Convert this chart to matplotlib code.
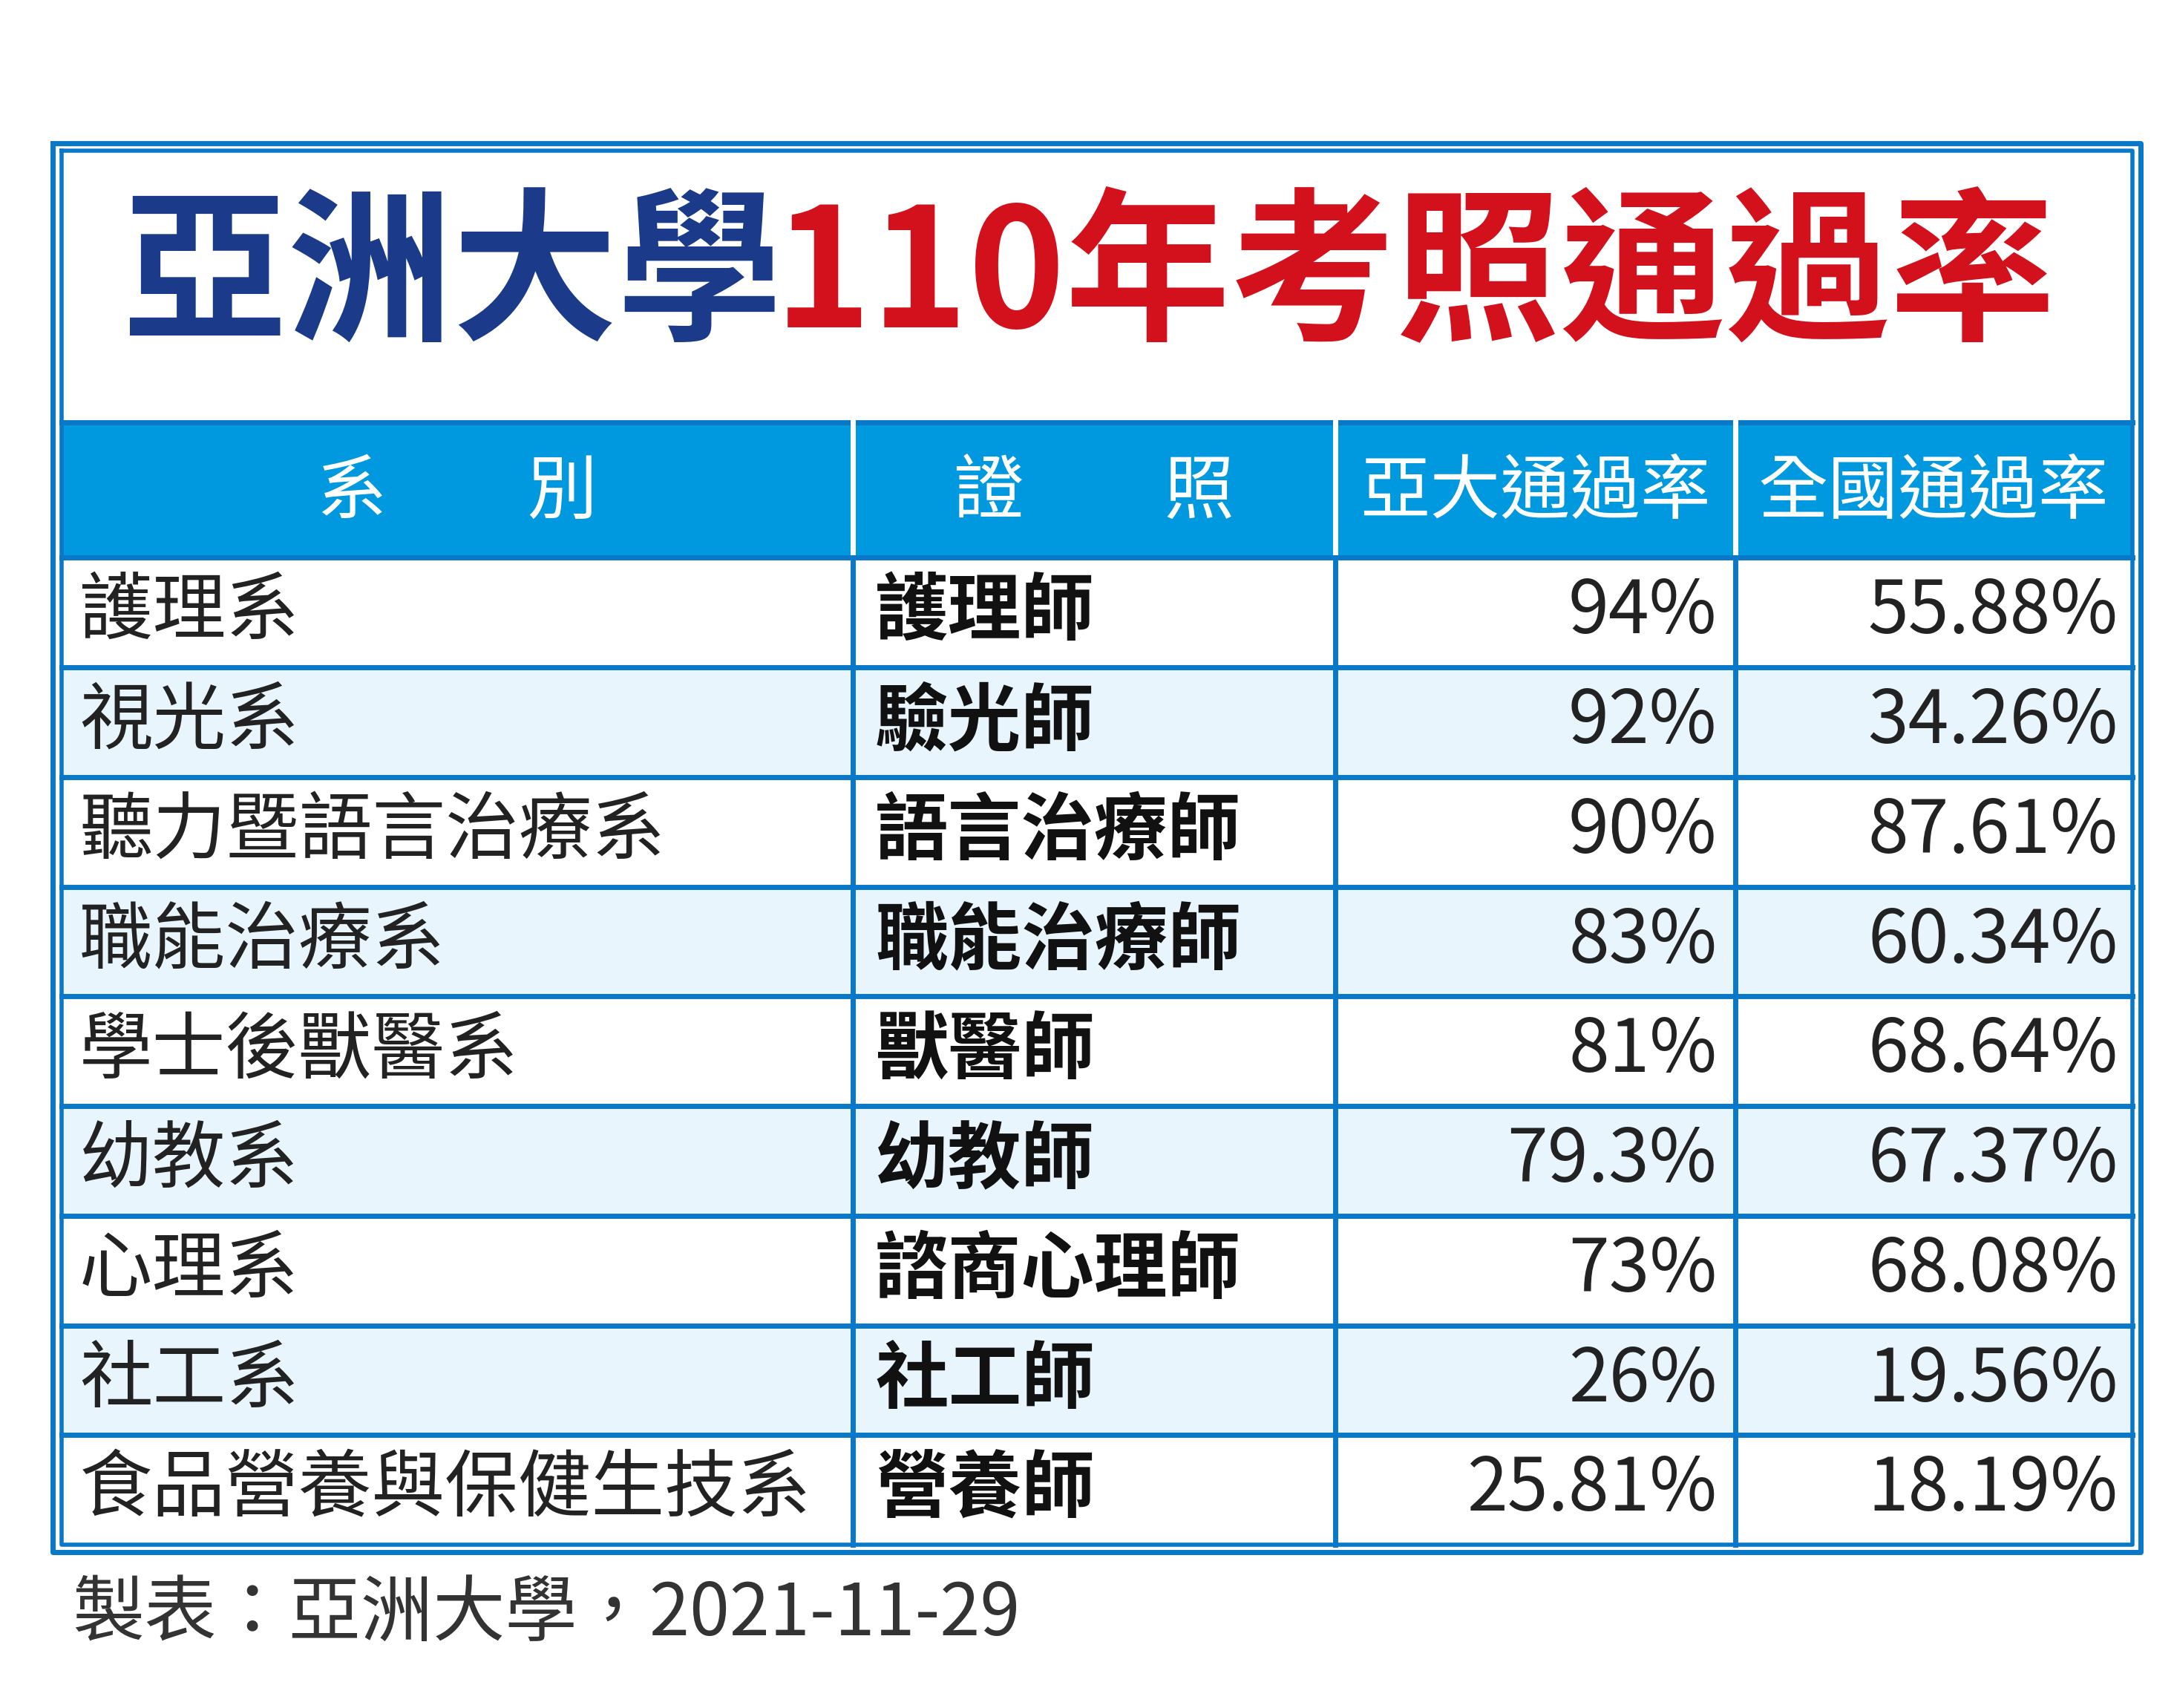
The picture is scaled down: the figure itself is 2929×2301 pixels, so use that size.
import matplotlib.pyplot as plt
from matplotlib.patches import Rectangle

# table contents
HEADERS = ["系　　別", "證　　照", "亞大通過率", "全國通過率"]
DEPTS = ["護理系", "視光系", "聽力暨語言治療系", "職能治療系", "學士後獸醫系",
         "幼教系", "心理系", "社工系", "食品營養與保健生技系"]
LICENSES = ["護理師", "驗光師", "語言治療師", "職能治療師", "獸醫師",
            "幼教師", "諮商心理師", "社工師", "營養師"]
ASIA_RATE = ["94%", "92%", "90%", "83%", "81%", "79.3%", "73%", "26%", "25.81%"]
NATION_RATE = ["55.88%", "34.26%", "87.61%", "60.34%", "68.64%",
               "67.37%", "68.08%", "19.56%", "18.19%"]
TITLE_LEFT = "亞洲大學"
TITLE_RIGHT = "110年考照通過率"
FOOTER = "製表：亞洲大學，2021-11-29"

FONT = "Noto Sans CJK TC"
NAVY = "#1b3a8a"
RED = "#d3111c"
HEAD_BLUE = "#0099e0"
LINE_BLUE = "#0a78c8"
ROW_ALT = "#e9f5fd"

fig = plt.figure(figsize=(29.29, 23.01), dpi=100)
ax = fig.add_axes([0, 0, 1, 1])
ax.set_xlim(0, 1560)
ax.set_ylim(1225, 0)
ax.axis("off")

L, R = 44, 1530
col_x = [L, 612, 958, 1245, R]
head_top, head_bot = 303, 400
bottom = 1108
n = len(DEPTS)
row_h = (bottom - head_bot) / n

# title
ax.text(88, 200, TITLE_LEFT, fontfamily=FONT, fontweight="black", fontsize=160,
        color=NAVY, ha="left", va="center")
ax.text(1475, 200, TITLE_RIGHT, fontfamily=FONT, fontweight="black", fontsize=160,
        color=RED, ha="right", va="center")

# header
ax.add_patch(Rectangle((L, head_top), R - L, head_bot - head_top, color=HEAD_BLUE, lw=0))
for i, h in enumerate(HEADERS):
    cx = (col_x[i] + col_x[i + 1]) / 2
    ax.text(cx, (head_top + head_bot) / 2 + 2, h, fontfamily=FONT, fontweight="medium",
            fontsize=68, color="white", ha="center", va="center")

# rows
for r in range(n):
    y0 = head_bot + r * row_h
    yc = y0 + row_h / 2
    if r % 2 == 1:
        ax.add_patch(Rectangle((L, y0), R - L, row_h, color=ROW_ALT, lw=0))
    ax.text(57, yc, DEPTS[r], fontfamily=FONT, fontweight="light", fontsize=71,
            color="#222222", ha="left", va="center")
    ax.text(628, yc, LICENSES[r], fontfamily=FONT, fontweight="bold", fontsize=71,
            color="#111111", ha="left", va="center")
    ax.text(1232, yc, ASIA_RATE[r], fontfamily=FONT, fontweight="light", fontsize=71,
            color="#222222", ha="right", va="center")
    ax.text(1520, yc, NATION_RATE[r], fontfamily=FONT, fontweight="light", fontsize=71,
            color="#222222", ha="right", va="center")
    if r > 0:
        ax.plot([L, R], [y0, y0], color=LINE_BLUE, lw=5)
ax.plot([L, R], [head_bot, head_bot], color=LINE_BLUE, lw=5)
ax.plot([L, R], [head_top, head_top], color=LINE_BLUE, lw=5)

# column separators
for x in col_x[1:-1]:
    ax.plot([x, x], [head_top, head_bot], color="white", lw=5)
    ax.plot([x, x], [head_bot, bottom], color=LINE_BLUE, lw=5)

# outer double border
ax.plot([38, 1536, 1536, 38, 38], [103, 103, 1113, 1113, 103], color=LINE_BLUE, lw=5)
ax.plot([L, R, R, L, L], [108, 108, bottom, bottom, 108], color=LINE_BLUE, lw=4)

# footer
ax.text(52, 1158, FOOTER, fontfamily=FONT, fontweight="light", fontsize=70,
        color="#333333", ha="left", va="center")

fig.savefig("out.png", dpi=100, facecolor="white")
